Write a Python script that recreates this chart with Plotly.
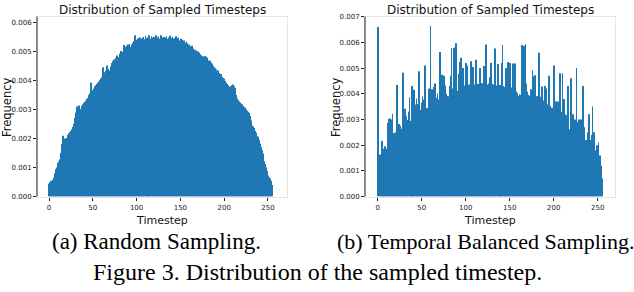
import plotly.graph_objects as go

timesteps = list(range(256))

freq_random = [
    0.00044, 0.00050, 0.00052, 0.00055, 0.00057, 0.00060, 0.00066, 0.00080, 0.00094, 0.00100,
    0.00116, 0.00122, 0.00128, 0.00140, 0.00150, 0.00180, 0.00210, 0.00195, 0.00200, 0.00198,
    0.00202, 0.00208, 0.00212, 0.00218, 0.00222, 0.00226, 0.00232, 0.00240, 0.00250, 0.00258,
    0.00272, 0.00290, 0.00310, 0.00308, 0.00314, 0.00302, 0.00298, 0.00310, 0.00312, 0.00318,
    0.00322, 0.00326, 0.00330, 0.00336, 0.00340, 0.00345, 0.00350, 0.00356, 0.00392, 0.00366,
    0.00360, 0.00372, 0.00380, 0.00378, 0.00384, 0.00388, 0.00392, 0.00396, 0.00402, 0.00406,
    0.00412, 0.00420, 0.00446, 0.00428, 0.00420, 0.00434, 0.00452, 0.00440, 0.00436, 0.00432,
    0.00434, 0.00448, 0.00460, 0.00466, 0.00472, 0.00470, 0.00478, 0.00482, 0.00486, 0.00480,
    0.00478, 0.00492, 0.00502, 0.00496, 0.00498, 0.00510, 0.00522, 0.00516, 0.00512, 0.00520,
    0.00524, 0.00522, 0.00526, 0.00516, 0.00512, 0.00524, 0.00530, 0.00536, 0.00556, 0.00540,
    0.00538, 0.00544, 0.00546, 0.00540, 0.00548, 0.00544, 0.00540, 0.00548, 0.00550, 0.00542,
    0.00554, 0.00546, 0.00538, 0.00548, 0.00556, 0.00544, 0.00540, 0.00552, 0.00548, 0.00542,
    0.00550, 0.00546, 0.00556, 0.00540, 0.00548, 0.00552, 0.00544, 0.00540, 0.00556, 0.00548,
    0.00544, 0.00550, 0.00542, 0.00548, 0.00552, 0.00544, 0.00540, 0.00548, 0.00554, 0.00546,
    0.00540, 0.00550, 0.00544, 0.00538, 0.00546, 0.00552, 0.00540, 0.00546, 0.00548, 0.00538,
    0.00536, 0.00544, 0.00540, 0.00532, 0.00538, 0.00530, 0.00526, 0.00534, 0.00528, 0.00522,
    0.00524, 0.00518, 0.00516, 0.00520, 0.00510, 0.00508, 0.00506, 0.00500, 0.00504, 0.00498,
    0.00500, 0.00496, 0.00490, 0.00488, 0.00486, 0.00484, 0.00478, 0.00482, 0.00484, 0.00480,
    0.00478, 0.00472, 0.00470, 0.00466, 0.00468, 0.00462, 0.00458, 0.00450, 0.00446, 0.00440,
    0.00442, 0.00438, 0.00432, 0.00434, 0.00426, 0.00420, 0.00422, 0.00416, 0.00412, 0.00408,
    0.00406, 0.00398, 0.00392, 0.00388, 0.00380, 0.00384, 0.00378, 0.00376, 0.00380, 0.00384,
    0.00386, 0.00380, 0.00374, 0.00364, 0.00350, 0.00338, 0.00332, 0.00328, 0.00324, 0.00320,
    0.00318, 0.00314, 0.00312, 0.00308, 0.00306, 0.00300, 0.00296, 0.00292, 0.00288, 0.00284,
    0.00278, 0.00262, 0.00244, 0.00242, 0.00236, 0.00226, 0.00220, 0.00212, 0.00208, 0.00206,
    0.00196, 0.00182, 0.00170, 0.00160, 0.00148, 0.00134, 0.00122, 0.00112, 0.00100, 0.00088,
    0.00072, 0.00066, 0.00062, 0.00058, 0.00054, 0.00040,
]

freq_balanced = [
    0.00660, 0.00000, 0.00000, 0.00164, 0.00130, 0.00216, 0.00136, 0.00186, 0.00196, 0.00172,
    0.00186, 0.00184, 0.00286, 0.00302, 0.00304, 0.00300, 0.00212, 0.00322, 0.00246, 0.00248,
    0.00244, 0.00250, 0.00434, 0.00250, 0.00282, 0.00206, 0.00276, 0.00212, 0.00264, 0.00482,
    0.00290, 0.00342, 0.00314, 0.00298, 0.00242, 0.00330, 0.00386, 0.00286, 0.00294, 0.00430,
    0.00326, 0.00416, 0.00372, 0.00358, 0.00382, 0.00336, 0.00360, 0.00488, 0.00338, 0.00320,
    0.00366, 0.00390, 0.00378, 0.00334, 0.00510, 0.00344, 0.00342, 0.00346, 0.00420, 0.00414,
    0.00664, 0.00344, 0.00418, 0.00400, 0.00426, 0.00440, 0.00354, 0.00384, 0.00402, 0.00378,
    0.00374, 0.00562, 0.00376, 0.00474, 0.00470, 0.00470, 0.00450, 0.00432, 0.00400, 0.00388,
    0.00390, 0.00384, 0.00430, 0.00468, 0.00578, 0.00420, 0.00398, 0.00578, 0.00580, 0.00596,
    0.00412, 0.00408, 0.00478, 0.00524, 0.00412, 0.00540, 0.00428, 0.00500, 0.00432, 0.00426,
    0.00520, 0.00432, 0.00510, 0.00430, 0.00436, 0.00434, 0.00526, 0.00440, 0.00504, 0.00430,
    0.00436, 0.00442, 0.00532, 0.00424, 0.00438, 0.00436, 0.00500, 0.00438, 0.00442, 0.00434,
    0.00440, 0.00508, 0.00436, 0.00592, 0.00436, 0.00430, 0.00440, 0.00464, 0.00432, 0.00520,
    0.00438, 0.00430, 0.00436, 0.00576, 0.00440, 0.00432, 0.00438, 0.00516, 0.00428, 0.00434,
    0.00432, 0.00520, 0.00590, 0.00430, 0.00412, 0.00426, 0.00500, 0.00432, 0.00524, 0.00428,
    0.00520, 0.00426, 0.00412, 0.00424, 0.00518, 0.00420, 0.00518, 0.00410, 0.00400, 0.00402,
    0.00392, 0.00398, 0.00394, 0.00396, 0.00590, 0.00400, 0.00586, 0.00402, 0.00594, 0.00440,
    0.00408, 0.00396, 0.00380, 0.00392, 0.00418, 0.00394, 0.00490, 0.00468, 0.00392, 0.00472,
    0.00390, 0.00370, 0.00392, 0.00560, 0.00384, 0.00362, 0.00388, 0.00428, 0.00374, 0.00340,
    0.00430, 0.00374, 0.00420, 0.00358, 0.00332, 0.00470, 0.00352, 0.00330, 0.00346, 0.00334,
    0.00510, 0.00400, 0.00350, 0.00370, 0.00332, 0.00370, 0.00346, 0.00480, 0.00330, 0.00300,
    0.00480, 0.00332, 0.00380, 0.00320, 0.00316, 0.00280, 0.00430, 0.00300, 0.00262, 0.00296,
    0.00460, 0.00290, 0.00320, 0.00276, 0.00300, 0.00268, 0.00500, 0.00230, 0.00290, 0.00300,
    0.00270, 0.00300, 0.00262, 0.00430, 0.00250, 0.00270, 0.00170, 0.00220, 0.00172, 0.00250,
    0.00320, 0.00210, 0.00220, 0.00240, 0.00350, 0.00200, 0.00250, 0.00180, 0.00160, 0.00200,
    0.00160, 0.00210, 0.00130, 0.00160, 0.00120, 0.00070,
]

x_ticks = [0, 50, 100, 150, 200, 250]
y_ticks_a = [0.000, 0.001, 0.002, 0.003, 0.004, 0.005, 0.006]
y_ticks_b = [0.000, 0.001, 0.002, 0.003, 0.004, 0.005, 0.006, 0.007]

title_text = "Distribution of Sampled Timesteps"
xlabel = "Timestep"
ylabel = "Frequency"
caption_a = "(a) Random Sampling."
caption_b = "(b) Temporal Balanced Sampling."
figure_caption = "Figure 3. Distribution of the sampled timestep."

W, H = 634, 292
BAR = "#1f77b4"
FONT = "DejaVu Sans"

def px_x(p):
    return p / W

def px_y(p):
    return 1 - p / H

fig = go.Figure()
fig.add_trace(go.Bar(x=timesteps, y=freq_random, marker=dict(color=BAR, line=dict(width=0)),
                     xaxis="x", yaxis="y", showlegend=False))
fig.add_trace(go.Bar(x=timesteps, y=freq_balanced, marker=dict(color=BAR, line=dict(width=0)),
                     xaxis="x2", yaxis="y2", showlegend=False))

ydom = [px_y(198), px_y(13)]
tickfont = dict(family=FONT, size=7, color="#222")
common_x = dict(tickvals=x_ticks, ticks="outside", ticklen=3, tickcolor="#222",
                tickfont=tickfont, showgrid=False, zeroline=False, ticklabelstandoff=1,
                showline=True, linecolor="#e6e6e6", linewidth=1, mirror=True)
common_y = dict(ticks="outside", ticklen=3, tickcolor="#222", tickformat=".3f",
                tickfont=tickfont, showgrid=False, zeroline=False,
                showline=True, linecolor="#e6e6e6", linewidth=1, mirror=True)

fig.update_layout(
    width=W, height=H,
    margin=dict(l=0, r=0, t=0, b=0),
    paper_bgcolor="white", plot_bgcolor="white",
    bargap=0.2,
    xaxis=dict(domain=[px_x(37), px_x(287)], range=[-13.7, 271.7], anchor="y", **common_x),
    yaxis=dict(domain=ydom, range=[0, 0.0062], tickvals=y_ticks_a, anchor="x", **common_y),
    xaxis2=dict(domain=[px_x(365), px_x(615)], range=[-14.4, 269.7], anchor="y2", **common_x),
    yaxis2=dict(domain=ydom, range=[0, 0.007], tickvals=y_ticks_b, anchor="x2", **common_y),
)

# dark left spines
for xr, yr in [("x domain", "y domain"), ("x2 domain", "y2 domain")]:
    fig.add_shape(type="line", xref=xr, yref=yr, x0=0, x1=0, y0=0, y1=1,
                  line=dict(color="#222", width=1))

ann = []
for cx in [(37 + 287) / 2, (365 + 615) / 2]:
    ann.append(dict(text=title_text, x=px_x(cx), y=px_y(6), font=dict(family=FONT, size=12, color="#111")))
    ann.append(dict(text=xlabel, x=px_x(cx), y=px_y(223), font=dict(family=FONT, size=11, color="#111")))
for cx in [7, 336]:
    ann.append(dict(text=ylabel, x=px_x(cx), y=px_y(106), textangle=-90,
                    font=dict(family=FONT, size=11.5, color="#111")))
ann.append(dict(text=caption_a, x=px_x(156), y=px_y(244),
                font=dict(family="Liberation Serif", size=23, color="#000")))
ann.append(dict(text=caption_b, x=px_x(485), y=px_y(244),
                font=dict(family="Liberation Serif", size=22, color="#000")))
ann.append(dict(text=figure_caption, x=px_x(317), y=px_y(276),
                font=dict(family="Liberation Serif", size=24, color="#000")))
for a in ann:
    a.update(xref="paper", yref="paper", showarrow=False, xanchor="center", yanchor="middle")
fig.update_layout(annotations=ann)

fig.write_html("out.html", config={"displayModeBar": False},
               post_script="document.body.style.margin='0';")
